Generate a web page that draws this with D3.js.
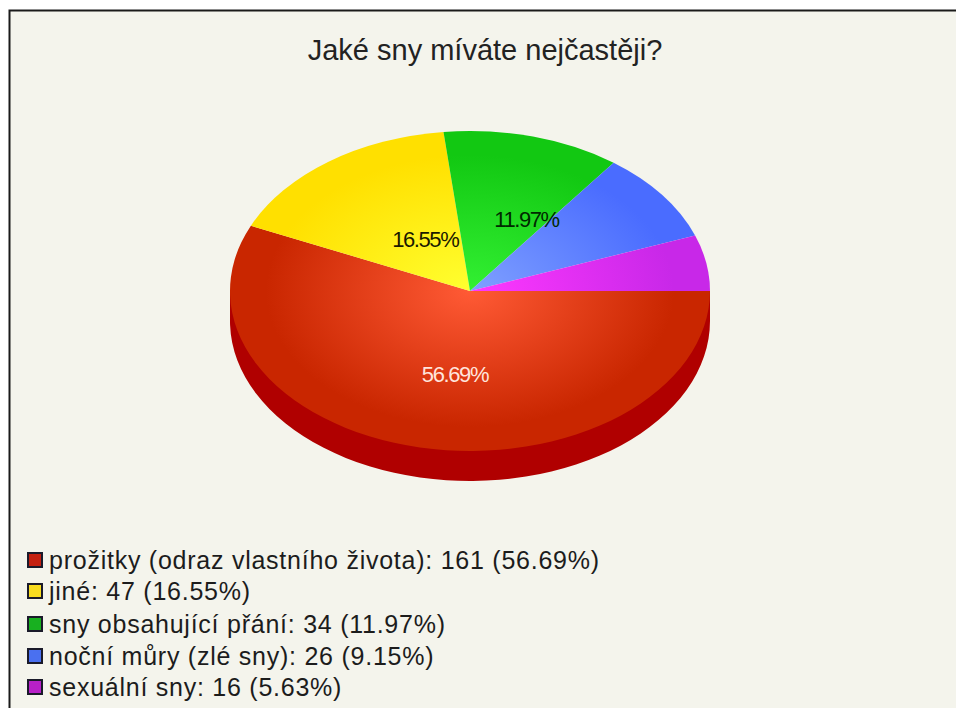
<!DOCTYPE html>
<html>
<head>
<meta charset="utf-8">
<script src="https://cdn.jsdelivr.net/npm/d3@7/dist/d3.min.js"></script>
<style>
html, body { margin: 0; padding: 0; background: #fff; }
svg { display: block; }
text { font-family: "Liberation Sans", Arial, sans-serif; }
</style>
</head>
<body>
<svg id="chart" width="956" height="708"></svg>
<script>
const chartTitle = "Jaké sny míváte nejčastěji?";
const categories = ["prožitky (odraz vlastního života)", "jiné", "sny obsahující přání", "noční můry (zlé sny)", "sexuální sny"];
const counts = [161, 47, 34, 26, 16];
const shares = [56.69, 16.55, 11.97, 9.15, 5.63];
const innerColors = ["#ff5a35", "#ffff30", "#33f033", "#7fa0ff", "#ff38ff"];
const outerColors = ["#c92600", "#ffe000", "#12c812", "#4a6cff", "#c828e8"];
const swatchColors = ["#c42010", "#f8dc20", "#18b020", "#4a70f0", "#b820c8"];
const sideColor = "#b00000";
const labelColors = ["#ffe4dc", "#1a1a00", "#002a00", null, null];
// Slices too thin to carry text have a null colour; the rest get a small hand offset.
const labelNudges = [[10, 6], [26, 14], [25, 6], null, null];

const width = 956, height = 708;
const cx = 470, cy = 291, radius = 240, tilt = 2 / 3, depth = 30;

const svg = d3.select("#chart");

svg.append("rect").attr("x", 10).attr("y", 11)
  .attr("width", width - 10).attr("height", height - 11).attr("fill", "#f4f4ec");
svg.append("path").attr("d", `M9.5,${height}V10.5H${width}`)
  .attr("fill", "none").attr("stroke", "#1a1a1a").attr("stroke-width", 2);

svg.append("text").attr("x", 485).attr("y", 60).attr("text-anchor", "middle")
  .attr("font-size", 29).attr("fill", "#222").text(chartTitle);

const defs = svg.append("defs");
categories.forEach((c, i) => {
  const g = defs.append("radialGradient").attr("id", `slice-${i}`)
    .attr("gradientUnits", "userSpaceOnUse")
    .attr("cx", 0).attr("cy", 0).attr("r", radius);
  g.append("stop").attr("offset", "0").attr("stop-color", innerColors[i]);
  g.append("stop").attr("offset", "0.85").attr("stop-color", outerColors[i]);
  g.append("stop").attr("offset", "1").attr("stop-color", outerColors[i]);
});

// Slices run clockwise from due east, on a disc squashed into an ellipse.
const pie = d3.pie().sort(null).startAngle(Math.PI / 2).endAngle(Math.PI / 2 + 2 * Math.PI);
const arcs = pie(counts);
const arc = d3.arc().innerRadius(0).outerRadius(radius);

const disc = `translate(${cx},${cy}) scale(1,${tilt})`;

// Rim of the front half: the first slice covers everything below the horizon.
svg.append("path")
  .attr("d", arc(arcs[0]))
  .attr("transform", `translate(${cx},${cy + depth}) scale(1,${tilt})`)
  .attr("fill", sideColor);
svg.append("rect")
  .attr("x", cx - radius).attr("y", cy)
  .attr("width", radius * 2).attr("height", depth)
  .attr("fill", sideColor);

svg.append("g").attr("transform", disc)
  .selectAll("path").data(arcs).join("path")
  .attr("d", arc)
  .attr("fill", (d, i) => `url(#slice-${i})`);

svg.append("g").selectAll("text")
  .data(arcs.filter((d, i) => labelNudges[i]))
  .join("text")
  .attr("x", d => cx + arc.centroid(d)[0] + labelNudges[d.index][0])
  .attr("y", d => cy + arc.centroid(d)[1] * tilt + labelNudges[d.index][1] + 7)
  .attr("text-anchor", "middle")
  .attr("font-size", 22)
  .attr("letter-spacing", -1.4)
  .attr("fill", d => labelColors[d.index])
  .text(d => shares[d.index].toFixed(2) + "%");

const rows = [560, 591, 624, 656, 687];
const legend = svg.append("g").selectAll("g").data(categories).join("g")
  .attr("transform", (d, i) => `translate(0,${rows[i]})`);
legend.append("rect").attr("x", 28).attr("y", -7).attr("width", 14).attr("height", 14)
  .attr("fill", (d, i) => swatchColors[i]).attr("stroke", "#1a1a2a").attr("stroke-width", 2);
legend.append("text").attr("x", 49).attr("y", 9)
  .attr("font-size", 25).attr("letter-spacing", 0.75).attr("fill", "#1c1c1c")
  .text((d, i) => `${d}: ${counts[i]} (${shares[i].toFixed(2)}%)`);
</script>
</body>
</html>
